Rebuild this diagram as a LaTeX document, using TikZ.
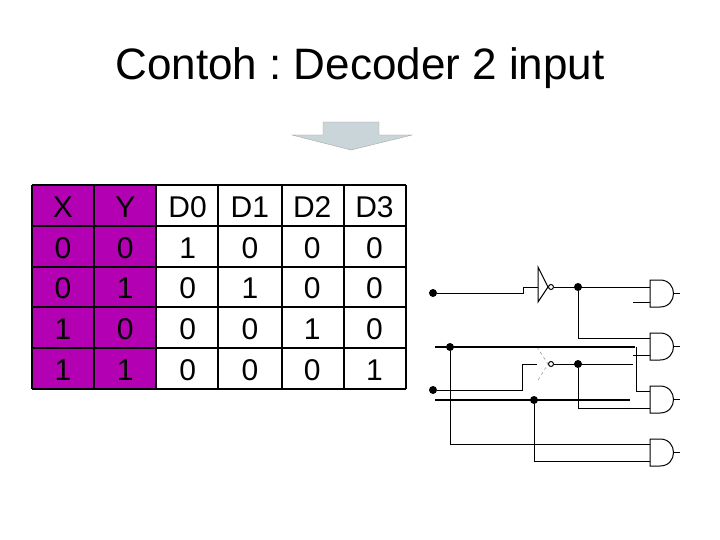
\documentclass[tikz,border=0pt]{standalone}
\usepackage{fontspec}
\setmainfont{Liberation Sans}
\frenchspacing
\begin{document}
\begin{tikzpicture}[x=1pt,y=-1pt,
  w/.style={line width=1pt},
  thick bus/.style={line width=2.6pt},
  dot/.style={circle,fill=black,inner sep=0pt,minimum width=5pt,minimum height=8pt},
  cell/.style={font=\fontsize{30}{30}\selectfont},
  gate/.style={line width=1pt}]
\useasboundingbox (0,0) rectangle (720,540);
\node[font=\fontsize{44}{44}\selectfont] (title) at (360,68) {Contoh : Decoder 2 input};
% arrow
\draw[fill=cyan!20!gray!40!white, draw=gray!70] (323,122) -- (379,122) -- (379,135) -- (412,135) -- (351,150) -- (292,135) -- (323,135) -- cycle;
% table
\fill[violet!60!magenta] (32,185) rectangle (156,389);
\foreach \x in {32,94,156,218,282,344,406} \draw[line width=2pt] (\x,185) -- (\x,389);
\foreach \y in {185,226,267,307,348,389} \draw[line width=2pt] (32,\y) -- (406,\y);
\foreach \r [count=\i from 0] in {{X,Y,D0,D1,D2,D3},{0,0,1,0,0,0},{0,1,0,1,0,0},{1,0,0,0,1,0},{1,1,0,0,0,1}}{
  \foreach \c [count=\j from 0] in \r {
    \node[cell] (t\i\j) at (63+62.3*\j, 207+40.8*\i) {\c};
  }
}
% AND gates
\foreach \n/\t in {1/280,2/333,3/386,4/439}{
  \draw[gate] (650,\t) -- (660,\t) .. controls (678,\t) and (678,\t+27) .. (660,\t+27) -- (650,\t+27) -- cycle;
  \coordinate (g\n) at (673.5,\t+13.5);
  \draw[gate] (g\n) -- ++(6,0);
}
% NOT gate 1
\draw[gate] (538,267) -- (538,302) -- (548,287) -- cycle;
\draw[w] (551,287) circle (2.5);
% NOT gate 2 (faint)
\draw[gray,dashed] (537,347) -- (548,364) -- (537,382);
\draw[w] (551,364) circle (2.5);
% wires
\node[dot] (X) at (433,293) {};
\node[dot] (Y) at (433,390) {};
\draw[w] (X) -- (523,293) -- (523,287) -- (538,287);
\draw[w] (553.5,287) -- (650,287);
\node[dot] (nx) at (578,287) {};
\draw[w] (nx) -- (578,338) -- (650,338);
\draw[w] (633,302) -- (650,302);
\draw[thick bus] (435,347) -- (635,347);
\node[dot] (ta) at (450,347) {};
\draw[w] (636,347) -- (636,391) -- (650,391);
\draw[w] (633,355) -- (650,355);
\draw[w] (Y) -- (522,390) -- (522,364) -- (537,364);
\draw[w] (553.5,364) -- (633,364);
\node[dot] (ny) at (578,364) {};
\draw[w] (ny) -- (578,408) -- (650,408);
\draw[thick bus] (435,400) -- (630,400);
\node[dot] (tb) at (534,400) {};
\draw[w] (tb) -- (534,461) -- (650,461);
\draw[w] (ta) -- (450,444) -- (650,444);
\end{tikzpicture}
\end{document}
